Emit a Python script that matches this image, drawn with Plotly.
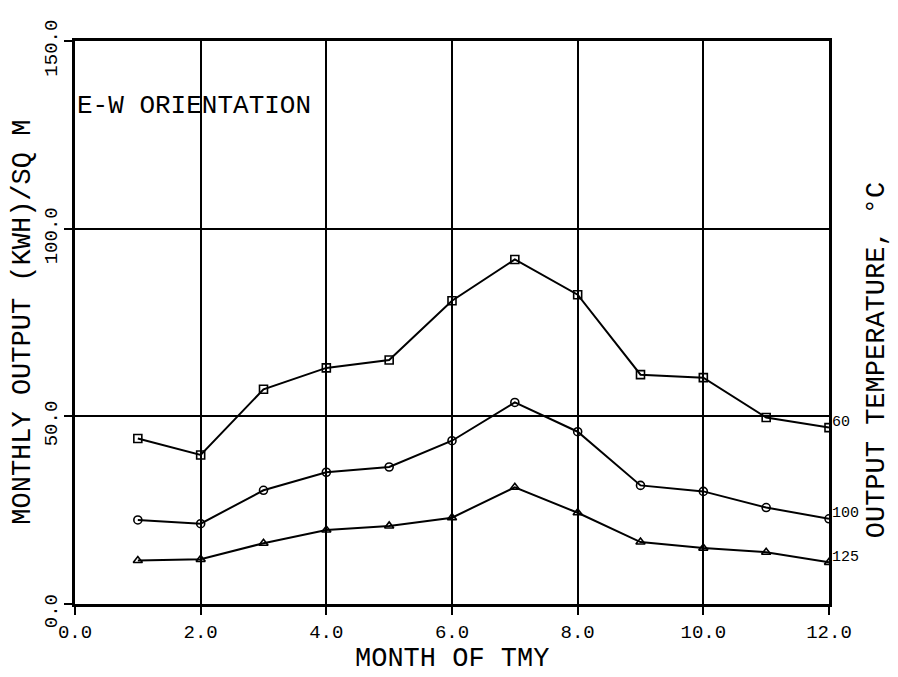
import plotly.graph_objects as go

months = [1, 2, 3, 4, 5, 6, 7, 8, 9, 10, 11, 12]
out_60 = [44.1, 39.7, 57.2, 62.9, 65.0, 80.8, 91.8, 82.4, 61.1, 60.3, 49.7, 47.0]
out_100 = [22.4, 21.4, 30.3, 35.1, 36.5, 43.5, 53.7, 45.9, 31.6, 30.0, 25.7, 22.7]
out_125 = [11.6, 11.9, 16.2, 19.7, 20.8, 23.0, 31.1, 24.3, 16.5, 14.9, 13.8, 11.1]
series_labels = ["60", "100", "125"]
series_symbols = ["square-open", "circle-open", "triangle-up-open"]
x_ticks = [0, 2, 4, 6, 8, 10, 12]
x_tick_text = ["0.0", "2.0", "4.0", "6.0", "8.0", "10.0", "12.0"]
y_ticks = [0, 50, 100, 150]
y_tick_text = ["0.0", "50.0", "100.0", "150.0"]

FONT = "Liberation Mono"

fig = go.Figure()
for vals, lab, sym in zip([out_60, out_100, out_125], series_labels, series_symbols):
    fig.add_trace(go.Scatter(
        x=months, y=vals, mode="lines+markers", name=lab,
        line=dict(color="black", width=2),
        marker=dict(symbol=sym, size=8, color="black", line=dict(width=1.6, color="black")),
        showlegend=False,
    ))
    fig.add_annotation(x=months[-1], y=vals[-1], text=lab, xref="x", yref="y",
                       xanchor="left", yanchor="middle", showarrow=False, xshift=1, yshift=5,
                       font=dict(family=FONT, size=15, color="black"))

fig.add_annotation(x=0, y=0.885, xref="paper", yref="paper", text="E-W ORIENTATION",
                   xanchor="left", yanchor="middle", showarrow=False,
                   font=dict(family=FONT, size=26, color="black"))

fig.add_annotation(x=0.5, y=-0.0977, xref="paper", yref="paper", text="MONTH OF TMY",
                   xanchor="center", yanchor="middle", showarrow=False,
                   font=dict(family=FONT, size=27, color="black"))

fig.add_annotation(x=-0.07, y=0.5, xref="paper", yref="paper", text="MONTHLY OUTPUT (KWH)/SQ M",
                   textangle=-90, xanchor="center", yanchor="middle", showarrow=False,
                   font=dict(family=FONT, size=27, color="black"))

fig.add_annotation(x=1.0637, y=0.433, xref="paper", yref="paper", text="OUTPUT TEMPERATURE, °C",
                   textangle=-90, xanchor="center", yanchor="middle", showarrow=False,
                   font=dict(family=FONT, size=27, color="black"))

fig.update_layout(
    width=898, height=677,
    margin=dict(l=75, r=69, t=41, b=73),
    paper_bgcolor="white", plot_bgcolor="white",
    font=dict(family=FONT, color="black"),
    xaxis=dict(range=[0, 12], tickvals=x_ticks, ticktext=x_tick_text,
               showgrid=True, gridcolor="black", gridwidth=1.5,
               showline=True, linecolor="black", linewidth=2.5, mirror=True,
               ticks="outside", ticklen=8, tickcolor="black", tickwidth=1.5,
               tickfont=dict(family=FONT, size=19), zeroline=False),
    yaxis=dict(range=[0, 150], tickvals=y_ticks, ticktext=y_tick_text,
               showgrid=True, gridcolor="black", gridwidth=1.5,
               showline=True, linecolor="black", linewidth=2.5, mirror=True,
               ticks="outside", ticklen=8, tickcolor="black", tickwidth=1.5,
               tickangle=-90, ticklabelshift=10,
               tickfont=dict(family=FONT, size=19), zeroline=False),
)

fig.write_html("out.html")
